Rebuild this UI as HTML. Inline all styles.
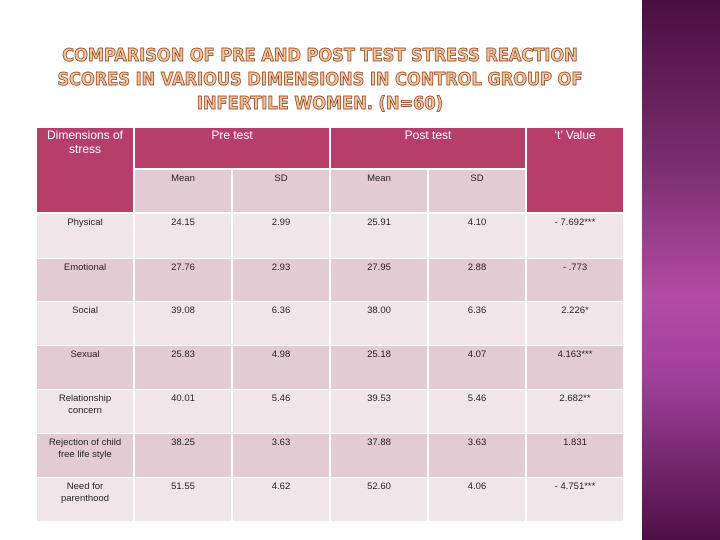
<!DOCTYPE html>
<html><head><meta charset="utf-8"><style>
body{margin:0;width:720px;height:540px;position:relative;background:#fff;overflow:hidden;font-family:"Liberation Sans",sans-serif}
#panel{position:absolute;left:642px;top:0;width:78px;height:540px;background:linear-gradient(#4a0f40 0%,#7a2d6e 30%,#b34ba4 55%,#a0409a 70%,#4e1045 100%)}
#title{position:absolute;left:0px;top:44px;width:640px;text-align:center;font-family:"DejaVu Sans Condensed","DejaVu Sans",sans-serif;font-weight:bold;font-size:18px;line-height:24px;color:#f6c49a;-webkit-text-stroke:0.7px #8a3510;white-space:nowrap}
#title span{display:block;transform:scaleX(1.0)}
.c{position:absolute;box-sizing:border-box;text-align:center;font-size:9.5px;color:#222;padding-top:3px;line-height:12px}
.h{background:#b83e6a;color:#fff;font-size:12px;line-height:14px;padding-top:0}
</style></head><body>
<div id="panel"></div>
<div id="title"><span>COMPARISON OF PRE AND POST TEST STRESS REACTION</span><span>SCORES IN VARIOUS DIMENSIONS IN CONTROL GROUP OF</span><span>INFERTILE WOMEN. (N=60)</span></div>
<div id="tbl"></div>
<script>
const dims=["Physical","Emotional","Social","Sexual","Relationship<br>concern","Rejection of child<br>free life style","Need for<br>parenthood"];
const preMean=["24.15","27.76","39.08","25.83","40.01","38.25","51.55"];
const preSD=["2.99","2.93","6.36","4.98","5.46","3.63","4.62"];
const postMean=["25.91","27.95","38.00","25.18","39.53","37.88","52.60"];
const postSD=["4.10","2.88","6.36","4.07","5.46","3.63","4.06"];
const tVal=["- 7.692***","- .773","2.226*","4.163***","2.682**","1.831","- 4.751***"];
const t=document.getElementById('tbl');
const cx=[37,135,233,331,429,527],cw=[96,96,96,96,96,96];
function cell(x,y,w,h,html,cls,name){const d=document.createElement('div');d.className='c '+(cls||'');
d.style.left=x+'px';d.style.top=y+'px';d.style.width=w+'px';d.style.height=h+'px';d.innerHTML=html;


t.appendChild(d);return d;}
cell(37,128,96,84,'Dimensions of<br>stress','h','header-dimensions');
cell(135,128,194,40,'Pre test','h','header-pre-test');
cell(331,128,194,40,'Post test','h','header-post-test');
cell(527,128,96,84,'‘t’ Value','h','header-t-value');
const subs=['Mean','SD','Mean','SD'];
for(let i=0;i<4;i++){const d=cell(cx[i+1],170,96,42,subs[i],'','subheader-'+subs[i].toLowerCase());d.style.background='#e3cbd3';}
const rowY=[214,259,302,346,390,434,478],rowH=[44,42,43,43,43,43,43];
for(let r=0;r<dims.length;r++){const vals=[dims[r],preMean[r],preSD[r],postMean[r],postSD[r],tVal[r]];
for(let c=0;c<6;c++){const d=cell(cx[c],rowY[r],cw[c],rowH[r],vals[c],'','row-'+r+'-col-'+c);d.style.background=r%2?'#e3cbd3':'#f0e6ea';}}
</script>
</body></html>
